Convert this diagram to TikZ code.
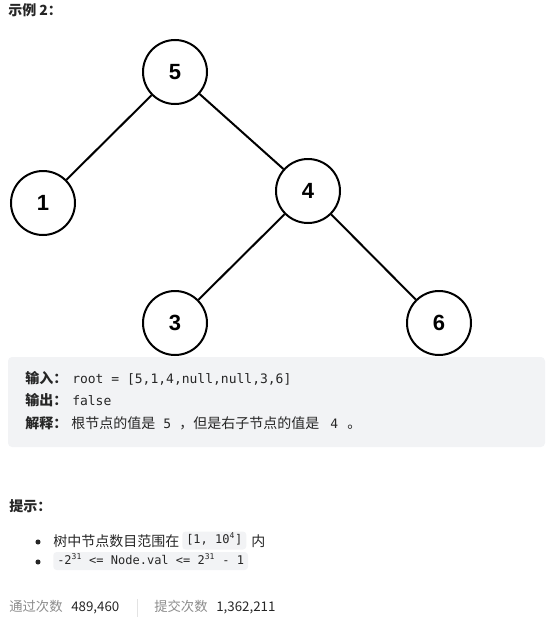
\documentclass[tikz,border=0pt]{standalone}
\usepackage{fontspec}
\setmainfont{Noto Sans CJK SC}
\setmonofont{DejaVu Sans Mono}
\newfontfamily\digitfont{Liberation Sans}
\usetikzlibrary{positioning}
\definecolor{ink}{HTML}{262626}
\definecolor{codebg}{HTML}{F2F3F5}
\definecolor{muted}{HTML}{8C8C8C}
\definecolor{sepline}{HTML}{E3E3E3}
\begin{document}
\begin{tikzpicture}[x=0.75pt, y=-0.75pt,
  treenode/.style={draw, circle, line width=1.5pt, minimum size=48pt, inner sep=0pt, fill=white,
    font=\digitfont\bfseries\fontsize{16.5}{18}\selectfont},
  link/.style={line width=1.5pt},
  plain/.style={anchor=base west, inner sep=0pt, text=ink, font=\fontsize{10.5}{12}\selectfont},
  heading/.style={plain, font=\bfseries\fontsize{10.5}{12}\selectfont},
  codetext/.style={plain, font=\ttfamily\fontsize{9.75}{12}\selectfont},
  inlinecode/.style={anchor=west, fill=codebg, rounded corners=2.5pt, inner xsep=3pt, inner ysep=0pt,
    minimum height=13.5pt, text height=7pt, text depth=2pt, text=ink, font=\ttfamily\fontsize{9}{10}\selectfont},
  footnum/.style={plain, font=\fontsize{10}{12}\selectfont},
  footlbl/.style={footnum, text=muted}]
\useasboundingbox (0,0) rectangle (554,621);

\node[heading] (title) at (8,16) {示例 2：};

% tree
\node[treenode] (n5) at (175,72) {5};
\node[treenode] (n1) at (43,203) {1};
\node[treenode] (n4) at (308,191) {4};
\node[treenode] (n3) at (175,323) {3};
\node[treenode] (n6) at (439,323) {6};

\draw[link] (n5) -- (n1);
\draw[link] (n5) -- (n4);
\draw[link] (n4) -- (n3);
\draw[link] (n4) -- (n6);

% example box
\fill[codebg, rounded corners=3pt] (8,357) rectangle (545,447);
\node[heading] (inlbl) at (25,383) {输入：};
\node[codetext] (incode) at (72,383) {root = [5,1,4,null,null,3,6]};
\node[heading] (outlbl) at (25,405) {输出：};
\node[codetext] (outcode) at (72,405) {false};
\node[heading] (whylbl) at (25,428) {解释：};
\node[plain] (why1) at (71,428) {根节点的值是};
\node[codetext] (val5) at (163,428) {5};
\node[plain] (why2) at (179,428) {，但是右子节点的值是};
\node[codetext] (val4) at (330,428) {4};
\node[plain] (why3) at (347,428) {。};

% hints
\node[heading] (hint) at (9,511) {提示：};
\fill[ink] (38,542) circle (1.9pt);
\fill[ink] (38,562) circle (1.9pt);
\node[plain] (range) at (53,546) {树中节点数目范围在};
\node[inlinecode] (rangecode) at (182,540.5) {[1, 10\textsuperscript{4}]};
\node[plain] (rangeend) at (251,546) {内};
\node[inlinecode] (valcode) at (53,561) {-2\textsuperscript{31} <= Node.val <= 2\textsuperscript{31} - 1};

% footer
\node[footlbl] (passlbl) at (9,611) {通过次数};
\node[footnum] (passnum) at (71,611) {489,460};
\draw[sepline, line width=0.75pt] (137,599) -- (137,617);
\node[footlbl] (sublbl) at (154,611) {提交次数};
\node[footnum] (subnum) at (216,611) {1,362,211};
\end{tikzpicture}
\end{document}
